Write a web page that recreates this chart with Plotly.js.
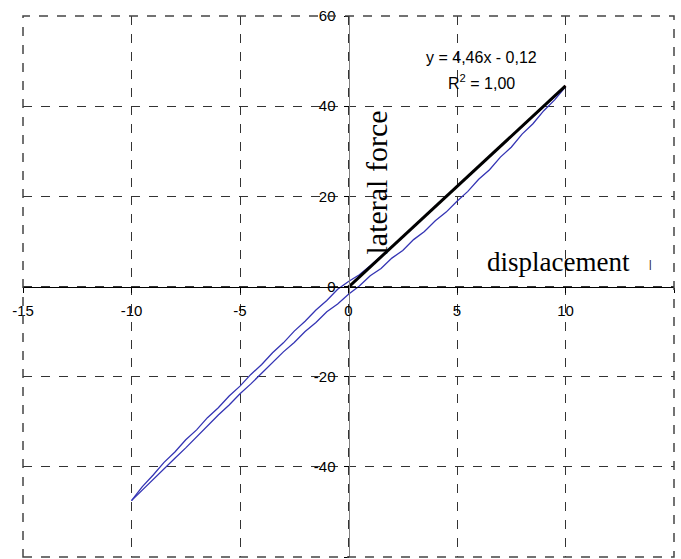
<!DOCTYPE html>
<html>
<head>
<meta charset="utf-8">
<script src="https://cdn.plot.ly/plotly-3.0.1.min.js"></script>
<style>html,body{margin:0;padding:0;background:#fff;}#chart{width:681px;height:559px;}</style>
</head>
<body>
<div id="chart"></div>
<script>
// Loading branch (lower-left to upper-right, upper curve)
const upX = [-10,-9.5,-9,-8.5,-8,-7.5,-7,-6.5,-6,-5.5,-5,-4.5,-4,-3.5,-3,-2.5,-2,-1.5,-1,-0.5,0,0.5,1,1.5,2,2.5,3,3.5,4,4.5,5,5.5,6,6.5,7,7.5,8,8.5,9,9.5,10];
const upY = [-47.5,-44.4,-41.8,-39.0,-36.7,-34.0,-31.8,-29.1,-26.9,-24.3,-22.1,-19.5,-17.3,-14.7,-12.5,-9.9,-7.7,-5.2,-3.1,-0.6,1.1,2.6,4.6,6.6,8.8,11.0,13.3,15.5,17.7,20.0,22.2,24.4,26.6,28.9,31.1,33.3,35.6,37.8,40.0,42.2,44.3];
// Unloading branch (upper-right back to lower-left, lower curve)
const dnX = [10,9.5,9,8.5,8,7.5,7,6.5,6,5.5,5,4.5,4,3.5,3,2.5,2,1.5,1,0.5,0,-0.5,-1,-1.5,-2,-2.5,-3,-3.5,-4,-4.5,-5,-5.5,-6,-6.5,-7,-7.5,-8,-8.5,-9,-9.5,-10];
const dnY = [44.3,41.4,39.0,36.1,33.8,30.9,28.7,25.9,23.8,21.1,18.9,16.5,14.6,12.2,10.4,8.0,6.3,4.0,2.4,0.1,-1.7,-3.9,-5.6,-8.0,-10.0,-12.4,-14.5,-16.9,-19.1,-21.6,-23.8,-26.3,-28.5,-31.0,-33.3,-35.8,-38.1,-40.5,-42.8,-45.2,-47.5];
// Data used for the fit (0 to 10)
const fitDataX = [0,1,2,3,4,5,6,7,8,9,10];
const fitDataY = [-0.1,4.3,8.8,13.3,17.7,22.2,26.6,31.1,35.6,40.0,44.5];
// Linear trendline y = 4,46x - 0,12
const trendX = [0,10];
const trendY = [-0.12,44.48];

const xTicks = [-15,-10,-5,0,5,10,15];
const yTicks = [-60,-40,-20,0,20,40,60];

const traces = [
  {x: upX, y: upY, mode:'lines', line:{color:'#3434b4', width:1.3}, hoverinfo:'skip'},
  {x: dnX, y: dnY, mode:'lines', line:{color:'#3434b4', width:1.3}, hoverinfo:'skip'},
  {x: fitDataX, y: fitDataY, mode:'lines', line:{color:'#cc0000', width:1.5}, hoverinfo:'skip'},
  {x: trendX, y: trendY, mode:'lines', line:{color:'#000000', width:3}, hoverinfo:'skip'}
];

const tickFont = {family:'Liberation Sans, Arial, sans-serif', size:15, color:'#000'};

const layout = {
  width:681, height:559,
  margin:{l:23, r:7, t:16, b:2, pad:0},
  paper_bgcolor:'#fff', plot_bgcolor:'#fff',
  showlegend:false,
  xaxis:{
    range:[-15,15], tickvals:xTicks, ticktext:xTicks.map(String),
    anchor:'free', position:0.5,
    showline:true, linecolor:'#000', linewidth:1.5,
    ticks:'outside', ticklen:5, tickcolor:'#000', tickwidth:1,
    showgrid:true, gridcolor:'#333', griddash:'dash', gridwidth:1,
    zeroline:false, tickfont:tickFont, ticklabelstandoff:5
  },
  xaxis2:{
    range:[-15,15], tickvals:xTicks, overlaying:'x', anchor:'free', position:0.5, side:'top',
    showline:false, ticks:'outside', ticklen:5, tickcolor:'#000', showticklabels:false,
    showgrid:false, zeroline:false
  },
  yaxis:{
    range:[-60,60], tickvals:yTicks, ticktext:yTicks.map(String),
    anchor:'free', position:0.5,
    showline:true, linecolor:'#808080', linewidth:1.5,
    ticks:'outside', ticklen:5, tickcolor:'#000', tickwidth:1,
    showgrid:true, gridcolor:'#333', griddash:'dash', gridwidth:1,
    zeroline:false, tickfont:tickFont, ticklabelstandoff:5
  },
  yaxis2:{
    range:[-60,60], tickvals:yTicks, overlaying:'y', anchor:'free', position:0.5, side:'right',
    showline:false, ticks:'outside', ticklen:5, tickcolor:'#000', showticklabels:false,
    showgrid:false, zeroline:false
  },
  shapes:[
    {type:'rect', xref:'paper', yref:'paper', x0:0, x1:1, y0:0, y1:1,
     line:{color:'#444', width:1.5, dash:'dash'}, fillcolor:'rgba(0,0,0,0)', layer:'above'}
  ],
  annotations:[
    {x:6.15, y:50.9, xref:'x', yref:'y', text:'y = 4,46x - 0,12', showarrow:false,
     font:{family:'Liberation Sans, Arial, sans-serif', size:16, color:'#000'}},
    {x:6.15, y:45.3, xref:'x', yref:'y', text:'R<sup>2</sup> = 1,00', showarrow:false,
     font:{family:'Liberation Sans, Arial, sans-serif', size:16, color:'#000'}},
    {x:1.3, y:23.0, xref:'x', yref:'y', text:'lateral force', textangle:-90, showarrow:false,
     font:{family:'Liberation Serif, Times New Roman, serif', size:30, color:'#000'}},
    {x:9.7, y:5.4, xref:'x', yref:'y', text:'displacement', showarrow:false,
     font:{family:'Liberation Serif, Times New Roman, serif', size:27, color:'#000'}},
    {x:13.9, y:4.8, xref:'x', yref:'y', text:'|', showarrow:false,
     font:{family:'Liberation Sans, Arial, sans-serif', size:10, color:'#000'}}
  ]
};

Plotly.newPlot('chart', traces, layout, {staticPlot:true, displayModeBar:false});
</script>
</body>
</html>
